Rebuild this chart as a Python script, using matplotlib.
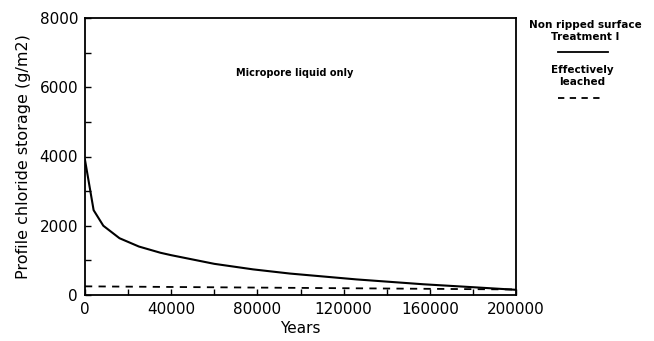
import matplotlib
matplotlib.use("Agg")
import matplotlib.pyplot as plt
import numpy as np
from matplotlib.ticker import MultipleLocator

# values
years = [0, 4000, 8500, 16000, 25000, 35000, 40000, 60000, 78000, 95000,
         126000, 157000, 176000, 200000]
non_ripped = [3900, 2450, 2000, 1640, 1400, 1220, 1150, 900, 740, 620,
              450, 310, 240, 150]
leached_years = [0, 200000]
leached = [250, 160]

plt.rcParams['font.family'] = ['DejaVu Sans']

fig = plt.figure(figsize=(6.54, 3.41), dpi=100)
ax = fig.add_axes([85 / 654, 1 - 295 / 341, 431 / 654, 277 / 341])

ax.plot(years, non_ripped, color='black', lw=1.5)
ax.plot(leached_years, leached, color='black', lw=1.3, ls=(0, (4, 3.5)))

ax.set_xlim(0, 200000)
ax.set_ylim(0, 8000)
ax.xaxis.set_major_locator(MultipleLocator(40000))
ax.xaxis.set_minor_locator(MultipleLocator(20000))
ax.yaxis.set_major_locator(MultipleLocator(2000))
ax.yaxis.set_minor_locator(MultipleLocator(1000))
ax.tick_params(which='both', direction='in', length=4, width=1,
               labelsize=11, top=False, right=False)
ax.tick_params(which='major', pad=5)
for s in ax.spines.values():
    s.set_linewidth(1.3)

ax.set_xlabel('Years', fontsize=11, labelpad=3)
ax.set_ylabel('Profile chloride storage (g/m2)', fontsize=11.5, labelpad=6)

ax.text(0.487, 0.80, 'Micropore liquid only', transform=ax.transAxes,
        fontsize=7, fontweight='bold', ha='center', va='center')

# legend drawn at right of axes
fig.text(585 / 654, 1 - 25 / 341, 'Non ripped surface', fontsize=7.5,
         fontweight='bold', ha='center', va='center')
fig.text(585 / 654, 1 - 37 / 341, 'Treatment I', fontsize=7.5,
         fontweight='bold', ha='center', va='center')
fig.add_artist(plt.Line2D([558 / 654, 608 / 654], [1 - 52 / 341, 1 - 52 / 341],
                          color='black', lw=1.3))
fig.text(582 / 654, 1 - 70 / 341, 'Effectively', fontsize=7.5,
         fontweight='bold', ha='center', va='center')
fig.text(582 / 654, 1 - 82 / 341, 'leached', fontsize=7.5,
         fontweight='bold', ha='center', va='center')
fig.add_artist(plt.Line2D([558 / 654, 602 / 654], [1 - 98 / 341, 1 - 98 / 341],
                          color='black', lw=1.3, ls=(0, (3.5, 3))))

fig.savefig('out.png', dpi=100)
